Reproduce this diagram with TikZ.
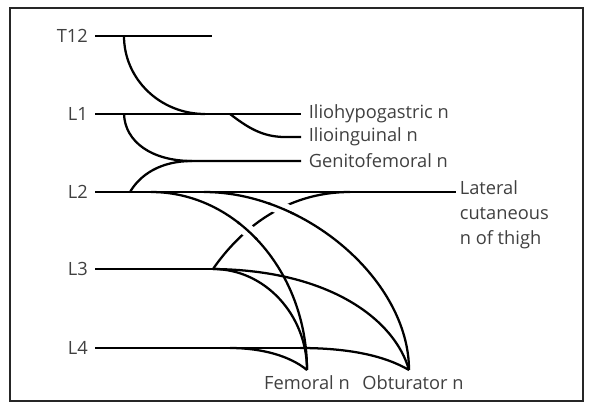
\documentclass[tikz,border=0pt]{standalone}
\usepackage{fontspec}
\setmainfont{Open Sans}
\usepackage{tikz}
\usetikzlibrary{knots}

\definecolor{labelgrey}{HTML}{404040}
\tikzset{
  lvl/.style={anchor=east, inner xsep=4.5pt, inner ysep=0pt, text=labelgrey, font=\fontsize{13.7}{18.75}\selectfont},
  nerve/.style={anchor=west, inner xsep=5pt, inner ysep=0pt, text=labelgrey, font=\fontsize{13.7}{18.75}\selectfont},
  tip/.style={anchor=north, inner sep=0pt, text=labelgrey, font=\fontsize{13.7}{18.75}\selectfont},
  frame/.style={draw=black!85, line width=0.8pt}
}

\begin{document}
\begin{tikzpicture}[x=0.75pt, y=-0.75pt, line width=1.7pt]
  \useasboundingbox (0,0) rectangle (591,407);
  \draw[frame] (10,8) rectangle (583,401);

  % The spinal levels
  \node[lvl] (T12) at (95,36) {T12};
  \node[lvl] (L1) at (95,114) {L1};
  \node[lvl] (L2) at (95,192) {L2};
  \node[lvl] (L3) at (95,269) {L3};
  \node[lvl] (L4) at (95,348) {L4};

  % Names of the nerves
  \node[nerve] (ihg) at (301,114) {Iliohypogastric n};
  \node[nerve] (ii) at (301,137) {Ilioinguinal n};
  \node[nerve] (gf) at (301,161) {Genitofemoral n};
  \node[nerve, anchor=north west, align=left, inner xsep=2pt]
    (lcn) at (456,179) {Lateral\\cutaneous\\n of thigh};
  \coordinate (lcnend) at (456,192);
  \node[tip] (fem) at (307,374) {Femoral n};
  \node[tip] (obt) at (413,374) {Obturator n};
  \coordinate (femtip) at (307,370);
  \coordinate (obttip) at (409,370);

  % Lateral cutaneous passes under the femoral and obturator roots
  \begin{knot}[clip width=2.4, clip radius=8pt, flip crossing/.list={1,2}]
    \strand (213,269) .. controls (240,230) and (285,192) .. (350,192);
    \strand (151,192) .. controls (237,192) and (307,272) .. (femtip);
    \strand (204,192) .. controls (306,192) and (409,281) .. (obttip);
  \end{knot}

  % T12
  \draw (T12.east) -- (212,36);
  \draw (124,36) .. controls (124,79) and (160,114) .. (205,114);

  % L1
  \draw (L1.east) -- (ihg.west);
  \draw (230,114) .. controls (247,127) and (262,137) .. (285,137) -- (ii.west);
  \draw (124,114) .. controls (125,142) and (152,161) .. (192,161) -- (gf.west);

  % L2
  \draw (L2.east) -- (lcnend);
  \draw (130,192) .. controls (140,175) and (160,161) .. (192,161);

  % L3
  \draw (L3.east) -- (213,269);
  \draw (213,269) .. controls (265,269) and (307,315) .. (femtip);
  \draw (213,269) .. controls (330,270) and (395,320) .. (obttip);

  % L4
  \draw (L4.east) -- (300,348);
  \draw (230,348) .. controls (262,348) and (290,356) .. (femtip);
  \draw (300,348) .. controls (350,348) and (385,356) .. (obttip);
\end{tikzpicture}
\end{document}
